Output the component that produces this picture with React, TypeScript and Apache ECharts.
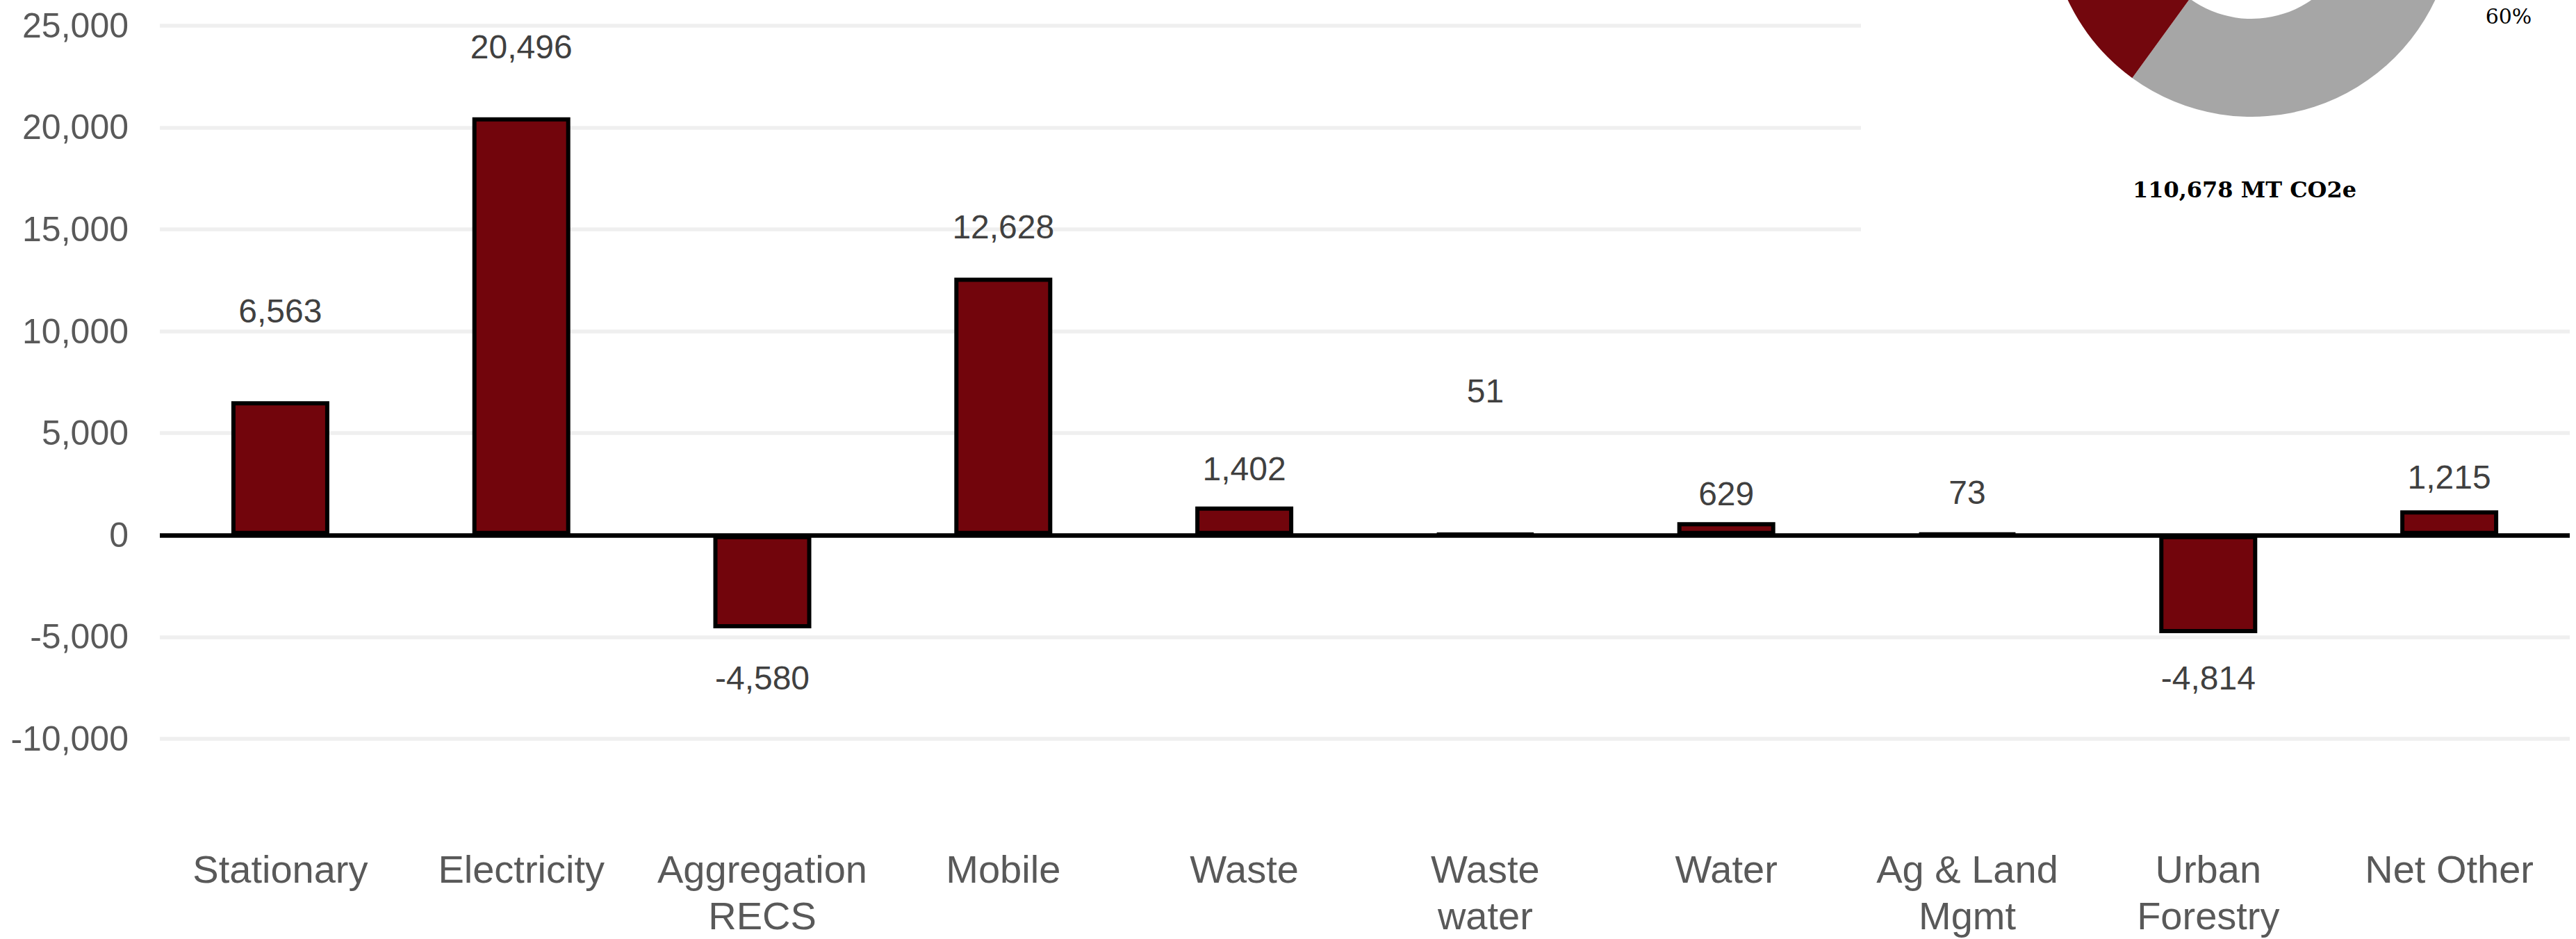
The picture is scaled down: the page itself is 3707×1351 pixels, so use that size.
import React, { useEffect, useRef } from "react";
import * as echarts from "echarts";

// ---- data ----
const categories = [
  "Stationary",
  "Electricity",
  "Aggregation\nRECS",
  "Mobile",
  "Waste",
  "Waste\nwater",
  "Water",
  "Ag & Land\nMgmt",
  "Urban\nForestry",
  "Net Other",
];
const values = [6563, 20496, -4580, 12628, 1402, 51, 629, 73, -4814, 1215];

const yMin = -10000;
const yMax = 25000;
const yStep = 5000;

const donutNames = ["Remaining", "Highlighted"];
const donutValues = [60, 40];
const totalEmissions = 110678;
const totalUnit = "MT CO2e";

// ---- layout (pixels, not data) ----
const labelGaps = [130, 101, 71, 73, 54, 204, 41, 57, 65, 48];

const W = 3707;
const H = 1351;
const BAR = "#72050C";
const fmt = (v: number) => v.toLocaleString("en-US");

export default function App() {
  const ref = useRef<HTMLDivElement>(null);
  useEffect(() => {
    if (!ref.current) return;
    const chart = echarts.init(ref.current, null, { renderer: "svg", width: W, height: H });
    const option: any = {
      animation: false,
      backgroundColor: "#ffffff",
      grid: { left: 230, right: 9, top: 36.7, bottom: H - 1063.3, containLabel: false },
      xAxis: {
        type: "category",
        data: categories,
        axisLine: { show: false, onZero: false },
        axisTick: { show: false },
        splitLine: { show: false },
        axisLabel: {
          interval: 0,
          margin: 154,
          fontSize: 56,
          lineHeight: 67,
          color: "#595959",
          fontFamily: "Liberation Sans, Arial, sans-serif",
        },
      },
      yAxis: {
        type: "value",
        min: yMin,
        max: yMax,
        interval: yStep,
        axisLine: { show: false },
        axisTick: { show: false },
        splitLine: { show: true, lineStyle: { color: "#EFEFEF", width: 5.5 } },
        axisLabel: {
          margin: 45,
          fontSize: 50,
          color: "#595959",
          fontFamily: "Liberation Sans, Arial, sans-serif",
          formatter: (v: number) => fmt(v),
        },
      },
      graphic: [
        {
          type: "rect",
          z: 1,
          silent: true,
          shape: { x: 2678, y: 0, width: W - 2678, height: 400 },
          style: { fill: "#ffffff" },
        },
        {
          type: "text",
          z: 10,
          silent: true,
          x: 3230,
          y: 273,
          style: {
            text: `${fmt(totalEmissions)} ${totalUnit}`,
            fontFamily: "DejaVu Serif, serif",
            fontWeight: "bold",
            fontSize: 32,
            fill: "#000000",
            align: "center",
            verticalAlign: "middle",
          },
        },
      ],
      series: [
        {
          type: "bar",
          barWidth: 141,
          silent: true,
          z: 3,
          itemStyle: { color: BAR, borderColor: "#000000", borderWidth: 6 },
          data: values.map((v, i) => ({
            value: v,
            label: {
              show: true,
              position: v >= 0 ? "top" : "bottom",
              distance: labelGaps[i],
              verticalAlign: "middle",
              align: "center",
              fontSize: 48,
              color: "#404040",
              fontFamily: "Liberation Sans, Arial, sans-serif",
              formatter: (p: any) => fmt(p.value),
            },
          })),
          markLine: {
            silent: true,
            symbol: "none",
            label: { show: false },
            lineStyle: { color: "#000000", width: 6.5, type: "solid" },
            data: [{ yAxis: 0 }],
          },
        },
        {
          type: "pie",
          z: 5,
          silent: true,
          center: [3240, -124],
          radius: [151, 292],
          startAngle: 90,
          clockwise: true,
          avoidLabelOverlap: false,
          labelLine: { show: false },
          emphasis: { disabled: true },
          label: {
            show: true,
            position: "outside",
            fontFamily: "DejaVu Serif, serif",
            fontSize: 30,
            color: "#000000",
            formatter: (p: any) => `${Math.round(p.percent)}%`,
          },
          labelLayout: (params: any) =>
            params.dataIndex === 0
              ? { x: 3610, y: 23, align: "center", verticalAlign: "middle" }
              : {},
          data: donutNames.map((n, i) => ({
            name: n,
            value: donutValues[i],
            itemStyle: { color: i === 0 ? "#A6A6A6" : "#73070D" },
            label: { show: i === 0 },
          })),
        },
      ],
    };
    chart.setOption(option);
    return () => chart.dispose();
  }, []);
  return (
    <div
      ref={ref}
      style={{ position: "absolute", left: 0, top: 0, width: W, height: H, background: "#fff" }}
    />
  );
}
